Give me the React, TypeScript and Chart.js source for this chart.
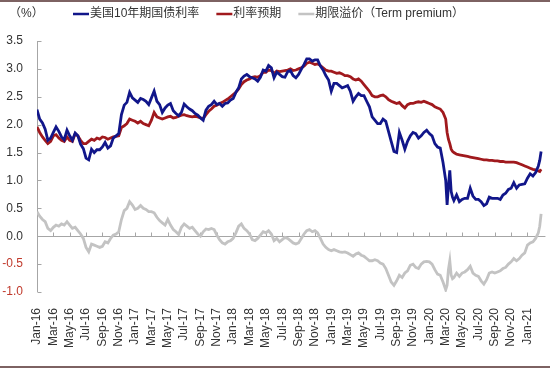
import { useEffect, useRef } from "react";
import { Chart, registerables } from "chart.js";
Chart.register(...registerables);

// x positions: months since Jan-2016 (roughly every 10 days)
const months2016 = [0, 0.33, 0.67, 1, 1.33, 1.67, 2, 2.33, 2.67, 3, 3.33, 3.67, 4, 4.33, 4.67, 5, 5.33, 5.67, 6, 6.33, 6.67, 7, 7.33, 7.67, 8, 8.33, 8.67, 9, 9.33, 9.67, 10, 10.33, 10.67, 11, 11.33, 11.67];
const months2017 = [12, 12.33, 12.67, 13, 13.33, 13.67, 14, 14.33, 14.67, 15, 15.33, 15.67, 16, 16.33, 16.67, 17, 17.33, 17.67, 18, 18.33, 18.67, 19, 19.33, 19.67, 20, 20.33, 20.67, 21, 21.33, 21.67, 22, 22.33, 22.67, 23, 23.33, 23.67];
const months2018 = [24, 24.33, 24.67, 25, 25.33, 25.67, 26, 26.33, 26.67, 27, 27.33, 27.67, 28, 28.33, 28.67, 29, 29.33, 29.67, 30, 30.33, 30.67, 31, 31.33, 31.67, 32, 32.33, 32.67, 33, 33.33, 33.67, 34, 34.33, 34.67, 35, 35.33, 35.67];
const months2019 = [36, 36.33, 36.67, 37, 37.33, 37.67, 38, 38.33, 38.67, 39, 39.33, 39.67, 40, 40.33, 40.67, 41, 41.33, 41.67, 42, 42.33, 42.67, 43, 43.33, 43.67, 44, 44.33, 44.67, 45, 45.33, 45.67, 46, 46.33, 46.67, 47, 47.33, 47.67];
const months2020 = [48, 48.33, 48.67, 49, 49.33, 49.67, 50, 50.17, 50.33, 50.5, 50.67, 50.83, 51, 51.33, 51.67, 52, 52.33, 52.67, 53, 53.33, 53.67, 54, 54.33, 54.67, 55, 55.33, 55.67, 56, 56.33, 56.67, 57, 57.33, 57.67, 58, 58.33, 58.67, 59, 59.33, 59.67];
const months2021 = [60, 60.33, 60.67, 61, 61.33, 61.5, 61.67];

// 美国10年期国债利率
const us10y2016 = [2.27, 2.10, 2.03, 1.92, 1.72, 1.76, 1.86, 1.96, 1.88, 1.78, 1.73, 1.90, 1.80, 1.72, 1.85, 1.80, 1.65, 1.57, 1.40, 1.37, 1.56, 1.50, 1.55, 1.55, 1.60, 1.68, 1.58, 1.62, 1.76, 1.80, 1.84, 2.18, 2.35, 2.40, 2.58, 2.48];
const us10y2017 = [2.44, 2.40, 2.47, 2.45, 2.42, 2.36, 2.48, 2.60, 2.42, 2.36, 2.22, 2.30, 2.35, 2.38, 2.25, 2.20, 2.16, 2.22, 2.37, 2.32, 2.28, 2.25, 2.20, 2.17, 2.12, 2.08, 2.26, 2.33, 2.36, 2.42, 2.36, 2.38, 2.33, 2.38, 2.39, 2.44];
const us10y2018 = [2.47, 2.58, 2.66, 2.82, 2.87, 2.90, 2.86, 2.84, 2.82, 2.78, 2.85, 2.98, 2.96, 3.06, 3.02, 2.84, 2.94, 2.90, 2.86, 2.85, 2.95, 2.97, 2.88, 2.84, 2.90, 2.99, 3.08, 3.18, 3.18, 3.14, 3.16, 3.16, 3.05, 2.98, 2.88, 2.80];
const us10y2019 = [2.60, 2.74, 2.74, 2.70, 2.66, 2.68, 2.70, 2.60, 2.42, 2.50, 2.56, 2.52, 2.52, 2.42, 2.32, 2.14, 2.08, 2.02, 2.02, 2.10, 2.06, 1.88, 1.70, 1.52, 1.50, 1.86, 1.72, 1.56, 1.70, 1.80, 1.86, 1.84, 1.76, 1.80, 1.86, 1.90];
const us10y2020 = [1.84, 1.80, 1.66, 1.60, 1.58, 1.32, 1.00, 0.56, 0.90, 1.18, 0.80, 0.70, 0.64, 0.74, 0.62, 0.66, 0.68, 0.68, 0.86, 0.72, 0.66, 0.66, 0.62, 0.55, 0.58, 0.70, 0.68, 0.68, 0.68, 0.66, 0.74, 0.77, 0.84, 0.86, 0.96, 0.86, 0.92, 0.93, 0.94];
const us10y2021 = [1.04, 1.12, 1.08, 1.14, 1.26, 1.36, 1.52];

// 利率预期
const expect2016 = [1.96, 1.86, 1.78, 1.72, 1.66, 1.70, 1.80, 1.82, 1.76, 1.72, 1.70, 1.78, 1.72, 1.70, 1.84, 1.80, 1.72, 1.66, 1.66, 1.70, 1.74, 1.72, 1.76, 1.74, 1.78, 1.77, 1.74, 1.76, 1.78, 1.79, 1.80, 1.95, 1.98, 2.02, 2.10, 2.08];
const expect2017 = [2.06, 2.03, 2.06, 2.02, 2.00, 1.98, 2.08, 2.22, 2.14, 2.12, 2.10, 2.12, 2.14, 2.15, 2.12, 2.13, 2.15, 2.17, 2.18, 2.16, 2.15, 2.14, 2.15, 2.14, 2.12, 2.11, 2.18, 2.24, 2.28, 2.33, 2.35, 2.38, 2.40, 2.43, 2.46, 2.50];
const expect2018 = [2.54, 2.58, 2.64, 2.72, 2.77, 2.80, 2.82, 2.85, 2.86, 2.85, 2.88, 2.94, 2.94, 2.98, 2.97, 2.92, 2.96, 2.95, 2.96, 2.97, 2.98, 3.00, 2.97, 2.98, 3.00, 3.02, 3.05, 3.10, 3.12, 3.10, 3.08, 3.09, 3.06, 3.02, 2.98, 2.96];
const expect2019 = [2.96, 2.94, 2.92, 2.93, 2.91, 2.88, 2.88, 2.86, 2.82, 2.80, 2.82, 2.78, 2.72, 2.66, 2.60, 2.52, 2.50, 2.50, 2.52, 2.53, 2.50, 2.45, 2.42, 2.40, 2.38, 2.40, 2.34, 2.30, 2.36, 2.38, 2.38, 2.40, 2.41, 2.40, 2.42, 2.40];
const expect2020 = [2.38, 2.36, 2.32, 2.30, 2.28, 2.22, 2.10, 1.86, 1.74, 1.66, 1.56, 1.52, 1.50, 1.47, 1.46, 1.45, 1.44, 1.43, 1.42, 1.41, 1.40, 1.39, 1.38, 1.37, 1.37, 1.36, 1.36, 1.35, 1.35, 1.34, 1.34, 1.33, 1.33, 1.33, 1.33, 1.32, 1.30, 1.28, 1.26];
const expect2021 = [1.24, 1.22, 1.20, 1.19, 1.17, 1.16, 1.20];

// 期限溢价
const tp2016 = [0.44, 0.36, 0.30, 0.26, 0.14, 0.10, 0.16, 0.20, 0.18, 0.22, 0.20, 0.26, 0.20, 0.14, 0.16, 0.10, 0.04, -0.04, -0.20, -0.28, -0.14, -0.16, -0.18, -0.20, -0.18, -0.10, -0.12, -0.04, 0.02, 0.04, 0.08, 0.30, 0.46, 0.50, 0.62, 0.56];
const tp2017 = [0.48, 0.50, 0.55, 0.50, 0.48, 0.44, 0.44, 0.42, 0.34, 0.28, 0.24, 0.20, 0.30, 0.20, 0.12, 0.08, 0.03, 0.16, 0.22, 0.18, 0.14, 0.16, 0.10, 0.04, 0.00, 0.08, 0.13, 0.12, 0.14, 0.12, 0.02, -0.06, -0.12, -0.14, -0.10, -0.08];
const tp2018 = [-0.04, 0.06, 0.18, 0.22, 0.14, 0.10, 0.04, -0.06, -0.08, -0.04, 0.02, 0.08, 0.06, 0.10, 0.04, -0.08, -0.04, -0.10, -0.06, -0.02, -0.04, -0.08, -0.12, -0.14, -0.12, -0.04, 0.04, 0.10, 0.12, 0.08, 0.10, 0.06, -0.04, -0.14, -0.20, -0.24];
const tp2019 = [-0.26, -0.24, -0.26, -0.28, -0.29, -0.28, -0.30, -0.33, -0.36, -0.32, -0.30, -0.34, -0.36, -0.40, -0.44, -0.44, -0.42, -0.44, -0.48, -0.50, -0.58, -0.70, -0.82, -0.88, -0.80, -0.70, -0.74, -0.66, -0.62, -0.52, -0.50, -0.56, -0.58, -0.50, -0.46, -0.45];
const tp2020 = [-0.46, -0.50, -0.60, -0.68, -0.70, -0.82, -0.96, -0.88, -0.60, -0.44, -0.70, -0.76, -0.74, -0.66, -0.72, -0.66, -0.64, -0.60, -0.54, -0.66, -0.70, -0.72, -0.80, -0.86, -0.78, -0.66, -0.64, -0.66, -0.64, -0.62, -0.58, -0.56, -0.50, -0.46, -0.40, -0.44, -0.40, -0.34, -0.30];
const tp2021 = [-0.16, -0.12, -0.10, -0.04, 0.06, 0.18, 0.40];

const tickLabels = ["Jan-16", "Mar-16", "May-16", "Jul-16", "Sep-16", "Nov-16", "Jan-17", "Mar-17", "May-17", "Jul-17", "Sep-17", "Nov-17", "Jan-18", "Mar-18", "May-18", "Jul-18", "Sep-18", "Nov-18", "Jan-19", "Mar-19", "May-19", "Jul-19", "Sep-19", "Nov-19", "Jan-20", "Mar-20", "May-20", "Jul-20", "Sep-20", "Nov-20", "Jan-21"];
const seriesNames = ["美国10年期国债利率", "利率预期", "期限溢价（Term premium）"];
const unitLabel = "（%）";

const months = [...months2016, ...months2017, ...months2018, ...months2019, ...months2020, ...months2021];
const us10y = [...us10y2016, ...us10y2017, ...us10y2018, ...us10y2019, ...us10y2020, ...us10y2021];
const expectation = [...expect2016, ...expect2017, ...expect2018, ...expect2019, ...expect2020, ...expect2021];
const termPremium = [...tp2016, ...tp2017, ...tp2018, ...tp2019, ...tp2020, ...tp2021];

const FONT = "'Liberation Sans', 'Noto Sans CJK SC', sans-serif";
const AXIS_GRAY = "#a6a6a6";

const decorPlugin = {
  id: "decor",
  beforeDatasetsDraw(chart: any) {
    const { ctx, chartArea, scales } = chart;
    const xs = scales.x;
    const ys = scales.y;
    ctx.save();
    ctx.strokeStyle = AXIS_GRAY;
    ctx.lineWidth = 1;
    ctx.beginPath();
    const ax = Math.round(chartArea.left) + 0.5;
    ctx.moveTo(ax, chartArea.top);
    ctx.lineTo(ax, chartArea.bottom);
    ys.ticks.forEach((t: any) => {
      const py = Math.round(ys.getPixelForValue(t.value)) + 0.5;
      ctx.moveTo(ax, py);
      ctx.lineTo(ax + 4, py);
    });
    const zy = Math.round(ys.getPixelForValue(0)) + 0.5;
    ctx.moveTo(chartArea.left, zy);
    ctx.lineTo(chartArea.right, zy);
    xs.ticks.forEach((t: any) => {
      const px = Math.round(xs.getPixelForValue(t.value)) + 0.5;
      ctx.moveTo(px, zy);
      ctx.lineTo(px, zy - 4);
    });
    ctx.stroke();
    ctx.restore();
  },
  afterDraw(chart: any) {
    const { ctx } = chart;
    ctx.save();
    ctx.font = `12px ${FONT}`;
    ctx.textBaseline = "middle";
    ctx.fillStyle = "#333333";
    ctx.fillText(unitLabel, 9, 14);
    let lx = 73;
    const ly = 14;
    chart.data.datasets.forEach((ds: any) => {
      ctx.strokeStyle = ds.borderColor;
      ctx.lineWidth = 2.5;
      ctx.beginPath();
      ctx.moveTo(lx, ly);
      ctx.lineTo(lx + 16, ly);
      ctx.stroke();
      ctx.fillStyle = "#333333";
      ctx.fillText(ds.label, lx + 17, ly);
      lx += 17 + ctx.measureText(ds.label).width + 17;
    });
    // frame lines of the picture
    ctx.fillStyle = "#7d6262";
    ctx.fillRect(0, 0, chart.width, 2);
    ctx.fillRect(0, 366, chart.width, 2);
    ctx.restore();
  },
};

export default function App() {
  const ref = useRef<HTMLCanvasElement | null>(null);
  useEffect(() => {
    document.body.style.margin = "0";
    const canvas = ref.current;
    if (!canvas) return;
    const mk = (vals: number[]) => months.map((m, i) => ({ x: m, y: vals[i] }));
    const chart = new Chart(canvas, {
      type: "line",
      data: {
        datasets: [
          { label: seriesNames[0], data: mk(us10y), borderColor: "#11168a", backgroundColor: "#11168a" },
          { label: seriesNames[1], data: mk(expectation), borderColor: "#a0191d", backgroundColor: "#a0191d" },
          { label: seriesNames[2], data: mk(termPremium), borderColor: "#c3c3c3", backgroundColor: "#c3c3c3" },
        ],
      },
      options: {
        animation: false,
        responsive: false,
        maintainAspectRatio: false,
        layout: { padding: { top: 41, right: 4, left: 0, bottom: 0 } },
        plugins: { legend: { display: false }, tooltip: { enabled: false } },
        elements: { point: { radius: 0 }, line: { borderWidth: 2.8, tension: 0 } },
        scales: {
          x: {
            type: "linear",
            min: 0,
            max: 62.2,
            grid: { display: false },
            border: { display: false },
            afterBuildTicks: (s: any) => {
              s.ticks = tickLabels.map((_, i) => ({ value: i * 2 }));
            },
            afterFit: (s: any) => {
              s.height = 80;
            },
            ticks: {
              autoSkip: false,
              minRotation: 90,
              maxRotation: 90,
              padding: 8,
              color: "#333333",
              font: { family: FONT, size: 12 },
              callback: (_v: any, i: number) => tickLabels[i],
            },
          },
          y: {
            min: -1,
            max: 3.5,
            grid: { display: false, drawTicks: false },
            border: { display: false },
            afterFit: (s: any) => {
              s.width = 37;
            },
            ticks: {
              stepSize: 0.5,
              padding: 14,
              font: { family: FONT, size: 12 },
              color: (c: any) => (c.tick && c.tick.value < 0 ? "#c0392b" : "#333333"),
              callback: (v: any) => Number(v).toFixed(1),
            },
          },
        },
      },
      plugins: [decorPlugin],
    });
    return () => chart.destroy();
  }, []);
  return (
    <div style={{ width: 550, height: 372, background: "#fff" }}>
      <canvas ref={ref} width={550} height={372} style={{ display: "block" }} />
    </div>
  );
}
